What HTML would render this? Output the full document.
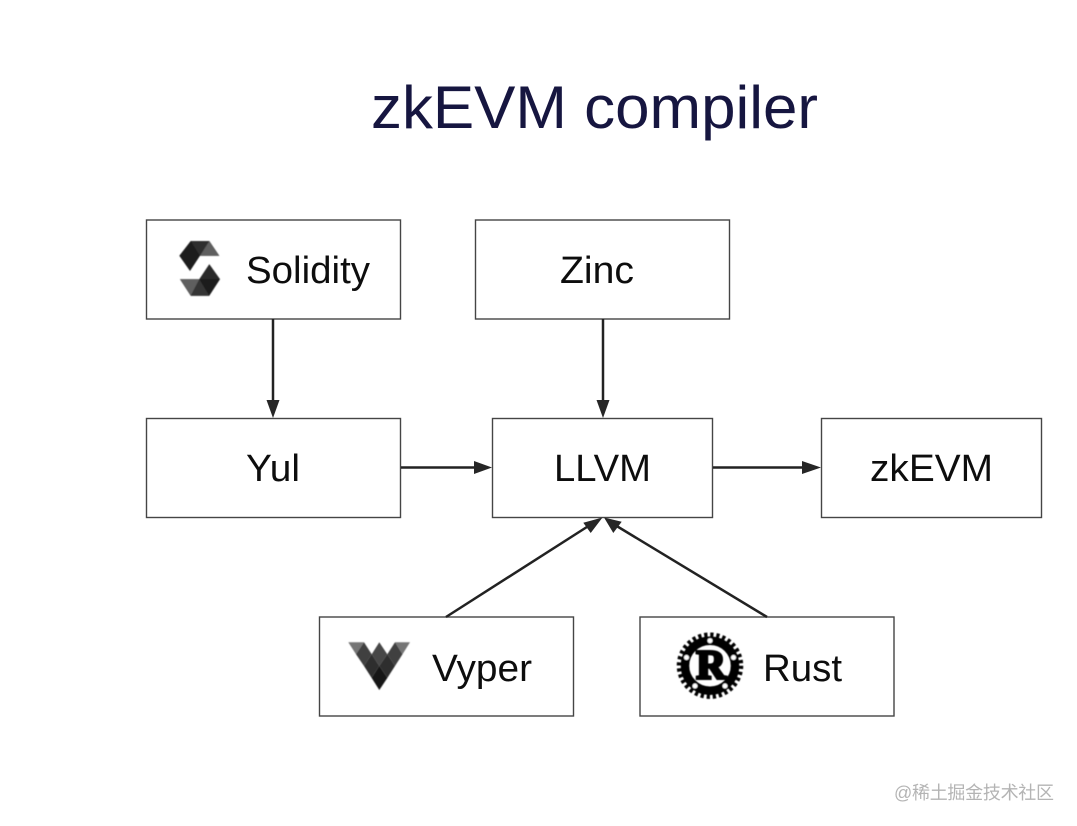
<!DOCTYPE html>
<html><head><meta charset="utf-8"><style>
html,body{margin:0;padding:0;background:#fff;width:1077px;height:826px;overflow:hidden}
svg{display:block}
text{font-family:"Liberation Sans","Noto Sans CJK SC",sans-serif}
.l{font-size:38px;fill:#111}
</style></head><body>
<svg width="1077" height="826" viewBox="0 0 1077 826" xmlns="http://www.w3.org/2000/svg">
<defs>
<filter id="b" x="-5%" y="-5%" width="110%" height="110%"><feGaussianBlur stdDeviation="0.35"/></filter>
<filter id="c" x="-10%" y="-10%" width="120%" height="120%"><feGaussianBlur stdDeviation="0.4"/></filter>
</defs>
<rect width="1077" height="826" fill="#fff"/>
<text x="371" y="128" font-size="60" fill="#15123f" textLength="447" lengthAdjust="spacingAndGlyphs" filter="url(#b)">zkEVM compiler</text>
<g filter="url(#b)">
<g fill="#fff" stroke="#444" stroke-width="1.4">
<rect x="146.500" y="220" width="254" height="99"/>
<rect x="475.500" y="220" width="254" height="99"/>
<rect x="146.500" y="418.500" width="254" height="99"/>
<rect x="492.500" y="418.500" width="220" height="99"/>
<rect x="821.500" y="418.500" width="220" height="99"/>
<rect x="319.500" y="617" width="254" height="99"/>
<rect x="640" y="617" width="254" height="99"/>
</g>
<g stroke="#222" stroke-width="2.500" fill="none">
<path d="M273 319V405"/><path d="M603 319V405"/><path d="M401 467.500H479"/><path d="M713 467.500H808"/>
<path d="M446 617L590 525"/><path d="M767 617L615 525"/>
</g>
<g fill="#262626">
<path d="M273 418L266.500 400H279.500Z"/><path d="M603 418L596.500 400H609.500Z"/>
<path d="M492 467.500L474 461V474Z"/><path d="M821 467.500L802 461V474Z"/>
<path d="M602.500 517.500L583.300 522.700L590.700 533Z"/><path d="M604 517.500L621.700 521.700L613.300 533Z"/>
</g>
<text class="l" x="246" y="283" textLength="124" lengthAdjust="spacingAndGlyphs">Solidity</text>
<text class="l" x="560" y="283" textLength="74" lengthAdjust="spacingAndGlyphs">Zinc</text>
<text class="l" x="246" y="481" textLength="54" lengthAdjust="spacingAndGlyphs">Yul</text>
<text class="l" x="554" y="481" textLength="97" lengthAdjust="spacingAndGlyphs">LLVM</text>
<text class="l" x="870" y="481" textLength="123" lengthAdjust="spacingAndGlyphs">zkEVM</text>
<text class="l" x="432" y="681" textLength="100" lengthAdjust="spacingAndGlyphs">Vyper</text>
<text class="l" x="763" y="681" textLength="79" lengthAdjust="spacingAndGlyphs">Rust</text>
</g>
<g filter="url(#c)">
<!-- Solidity -->
<path d="M190.700 241H209.300L219.300 255.700H200L190 271L179.300 255.700Z" fill="#1c1c1c"/>
<path d="M190.700 241H209.300L200 255.700Z" fill="#2e2e2e"/>
<path d="M209.300 241L219.300 255.700H200Z" fill="#5e5e5e"/>
<path d="M209.300 264.300L220 279.300L209.300 295.700H190.700L180 279.300H199.300Z" fill="#1c1c1c"/>
<path d="M209.300 264.300L220 279.300H199.300Z" fill="#2c2c2c"/>
<path d="M199.300 279.300L209.300 295.700H190.700Z" fill="#343434"/>
<path d="M180 279.300H199.300L190.700 295.700Z" fill="#5e5e5e"/>
<!-- Vyper -->
<path d="M348.300 642.300H364L356 654.300Z" fill="#747474"/>
<path d="M395 642.300H410L402.500 654.300Z" fill="#747474"/>
<path d="M356 654.300L364 642.300L371.700 654.300L364 666Z" fill="#404040"/>
<path d="M379.300 642.300L387.300 654.300L379.300 666L371.700 654.300Z" fill="#464646"/>
<path d="M395 642.300L402.500 654.300L395 666L387.300 654.300Z" fill="#404040"/>
<path d="M364 666L371.700 654.300L379.300 666L371.700 678Z" fill="#2e2e2e"/>
<path d="M379.300 666L387.300 654.300L395 666L387.300 678Z" fill="#2e2e2e"/>
<path d="M371.700 678L379.300 666L387.300 678L379.300 690Z" fill="#161616"/>
<!-- Rust -->
<circle cx="710" cy="665.700" r="30.500" fill="none" stroke="#000" stroke-width="5.500" stroke-dasharray="3.200 2.790"/>
<circle cx="710" cy="665.700" r="25" fill="none" stroke="#000" stroke-width="8.500"/>
<circle cx="710" cy="640.700" r="2.500" fill="#fff"/><circle cx="686.500" cy="657.500" r="2.500" fill="#fff"/><circle cx="733.500" cy="657.500" r="2.500" fill="#fff"/><circle cx="695" cy="686" r="2.500" fill="#fff"/><circle cx="725" cy="686" r="2.500" fill="#fff"/>
<text x="711" y="678.500" font-size="41" font-weight="bold" text-anchor="middle" style="font-family:'Liberation Serif',serif" fill="#000" stroke="#000" stroke-width="3">R</text>
</g>
<text x="894" y="799" font-size="18" fill="#b4b4b4" textLength="160" filter="url(#b)">@稀土掘金技术社区</text>
</svg>
</body></html>
